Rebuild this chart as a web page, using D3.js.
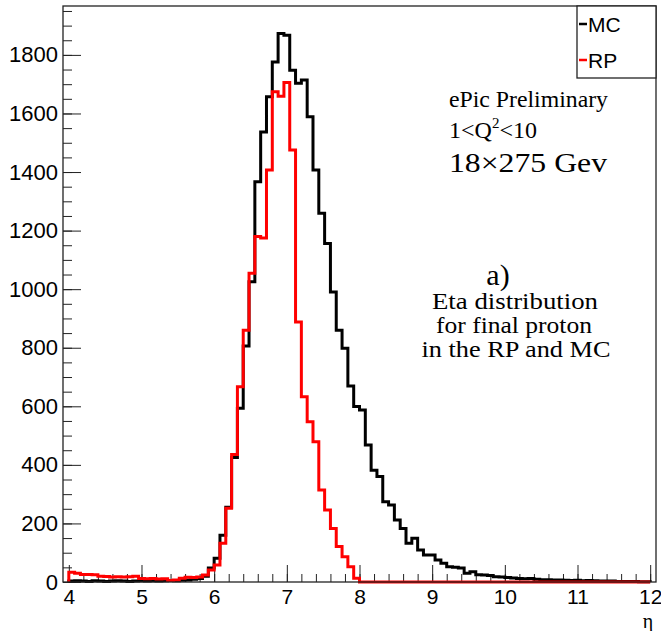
<!DOCTYPE html>
<html>
<head>
<meta charset="utf-8">
<script src="https://cdn.jsdelivr.net/npm/d3@7/dist/d3.min.js"></script>
<style>
  body { margin: 0; background: #fff; }
  svg text { fill: #000; }
</style>
</head>
<body>
<svg id="chart" width="661" height="631"></svg>
<script>
// histogram binning (eta)
var etaMin = 4, etaMax = 12, nBins = 100;

// MC (generated) counts per bin
var mcCounts = [
  3, 4, 3, 2, 4, 3, 2, 3, 4, 3,
  2, 3, 4, 3, 4, 3, 4, 5, 4, 6,
  7, 9, 12, 20, 48, 81, 160, 255, 425, 593,
  806, 1025, 1367, 1537, 1657, 1776, 1873, 1867, 1748, 1703,
  1714, 1589, 1407, 1259, 1156, 990, 860, 798, 669, 599,
  587, 468, 382, 360, 274, 263, 212, 183, 132, 149,
  109, 92, 92, 75, 64, 52, 50, 48, 30, 35,
  25, 24, 22, 18, 17, 15, 14, 12, 11, 12,
  9, 8, 8, 7, 7, 6, 5, 6, 4, 5,
  4, 3, 3, 3, 2, 2, 2, 2, 1, 1
];

// RP (roman pots) counts per bin
var rpCounts = [
  33, 30, 26, 26, 25, 20, 19, 17, 18, 17,
  18, 20, 12, 11, 12, 10, 11, 5, 7, 13,
  16, 15, 17, 24, 41, 58, 132, 252, 435, 667,
  860, 1054, 1180, 1175, 1407, 1674, 1659, 1706, 1475, 888,
  633, 547, 479, 314, 246, 183, 121, 86, 52, 13,
  0, 0, 0, 0, 0, 0, 0, 0, 0, 0,
  0, 0, 0, 0, 0, 0, 0, 0, 0, 0,
  0, 0, 0, 0, 0, 0, 0, 0, 0, 0,
  0, 0, 0, 0, 0, 0, 0, 0, 0, 0,
  0, 0, 0, 0, 0, 0, 0, 0, 0, 0
];

var xTicks = [4, 5, 6, 7, 8, 9, 10, 11, 12];
var yTicks = [0, 200, 400, 600, 800, 1000, 1200, 1400, 1600, 1800];
var seriesNames = ["MC", "RP"];
var seriesColors = ["#000000", "#ff0000"];

function drawChart() {
  var svg = d3.select("#chart");

  var fL = 63, fR = 656, fT = 6, fB = 582;

  var x = d3.scaleLinear().domain([3.92, 12.08]).range([fL, fR]);
  var y = d3.scaleLinear().domain([0, 1967]).range([fB, fT]);

  var binW = (etaMax - etaMin) / nBins;

  function histPoints(counts) {
    var pts = [[etaMin, 0]];
    counts.forEach(function(c, i) { pts.push([etaMin + i * binW, c]); });
    pts.push([etaMax, counts[counts.length - 1]]);
    pts.push([etaMax, 0]);
    return pts;
  }

  var line = d3.line()
    .x(function(d) { return x(d[0]); })
    .y(function(d) { return y(d[1]); })
    .curve(d3.curveStepAfter);

  svg.append("clipPath").attr("id", "clip")
    .append("rect")
    .attr("x", fL).attr("y", fT)
    .attr("width", fR - fL).attr("height", fB - fT + 2);

  // axes (ticks inside the frame, ROOT style)
  var xMinor = d3.range(0, 41).map(function(i) { return etaMin + i * 0.2; });
  var yMinor = d3.range(0, 40).map(function(i) { return i * 50; });

  svg.append("g")
    .attr("transform", "translate(0," + fB + ")")
    .call(d3.axisBottom(x).tickValues(xMinor).tickSize(-8).tickFormat(""))
    .call(function(g) { g.select(".domain").remove(); });

  svg.append("g")
    .attr("class", "xaxis")
    .attr("transform", "translate(0," + fB + ")")
    .call(d3.axisBottom(x).tickValues(xTicks).tickSize(-17).tickPadding(7).tickFormat(d3.format("d")))
    .call(function(g) { g.select(".domain").remove(); });

  svg.append("g")
    .attr("transform", "translate(" + fL + ",0)")
    .call(d3.axisLeft(y).tickValues(yMinor).tickSize(-9).tickFormat(""))
    .call(function(g) { g.select(".domain").remove(); });

  svg.append("g")
    .attr("class", "yaxis")
    .attr("transform", "translate(" + fL + ",0)")
    .call(d3.axisLeft(y).tickValues(yTicks).tickSize(-18).tickPadding(5).tickFormat(d3.format("d")))
    .call(function(g) { g.select(".domain").remove(); });

  svg.selectAll(".tick line").attr("stroke", "#222").attr("stroke-width", 1);
  svg.selectAll(".yaxis text")
    .style("font-family", "'Liberation Sans', Arial, sans-serif")
    .style("font-size", "22px");
  svg.selectAll(".xaxis text")
    .style("font-family", "'Liberation Sans', Arial, sans-serif")
    .style("font-size", "21px");

  // histograms
  svg.append("path")
    .attr("clip-path", "url(#clip)")
    .attr("d", line(histPoints(mcCounts)))
    .style("fill", "none")
    .style("stroke", seriesColors[0])
    .style("stroke-width", "3px");

  svg.append("path")
    .attr("clip-path", "url(#clip)")
    .attr("d", line(histPoints(rpCounts)))
    .style("fill", "none")
    .style("stroke", seriesColors[1])
    .style("stroke-width", "3px");

  // frame
  svg.append("rect")
    .attr("x", fL).attr("y", fT)
    .attr("width", fR - fL).attr("height", fB - fT)
    .style("fill", "none")
    .style("stroke", "#222")
    .style("stroke-width", "1.3px");

  // x title
  svg.append("text")
    .attr("x", 648).attr("y", 628)
    .attr("text-anchor", "middle")
    .style("font-family", "'Liberation Serif', serif")
    .style("font-size", "20px")
    .text("η");

  // legend
  var lg = svg.append("g");
  lg.append("rect")
    .attr("x", 577).attr("y", fT)
    .attr("width", fR - 577).attr("height", 72)
    .style("fill", "#fff")
    .style("stroke", "#222")
    .style("stroke-width", "1.3px");
  seriesNames.forEach(function(name, i) {
    var cy = 24 + i * 36;
    lg.append("line")
      .attr("x1", 579).attr("x2", 587)
      .attr("y1", cy).attr("y2", cy)
      .style("stroke", seriesColors[i])
      .style("stroke-width", "2.5px");
    lg.append("text")
      .attr("x", 588).attr("y", cy + 7.5)
      .style("font-family", "'Liberation Sans', Arial, sans-serif")
      .style("font-size", "21px")
      .text(name);
  });

  // annotations
  var serif = "'Liberation Serif', 'Times New Roman', serif";
  function note(txt, px, py, size, anchor, len) {
    var t = svg.append("text")
      .attr("x", px).attr("y", py)
      .attr("text-anchor", anchor)
      .style("font-family", serif)
      .style("font-size", size + "px")
      .text(txt);
    if (len) t.attr("textLength", len).attr("lengthAdjust", "spacingAndGlyphs");
    return t;
  }

  note("ePic Preliminary", 449, 107, 24, "start", 159);
  var q = svg.append("text")
    .attr("x", 449).attr("y", 138)
    .style("font-family", serif)
    .style("font-size", "24px");
  q.append("tspan").text("1<Q");
  q.append("tspan").attr("dy", -10).style("font-size", "15px").text("2");
  q.append("tspan").attr("dy", 10).text("<10");
  note("18×275 Gev", 449, 172, 27, "start", 158);

  note("a)", 498, 285, 30, "middle");
  note("Eta distribution", 515, 309, 23, "middle", 166);
  note("for final proton", 514, 333, 23, "middle", 156);
  note("in the RP and MC", 516, 357, 23, "middle", 189);
}

drawChart();
</script>
</body>
</html>
